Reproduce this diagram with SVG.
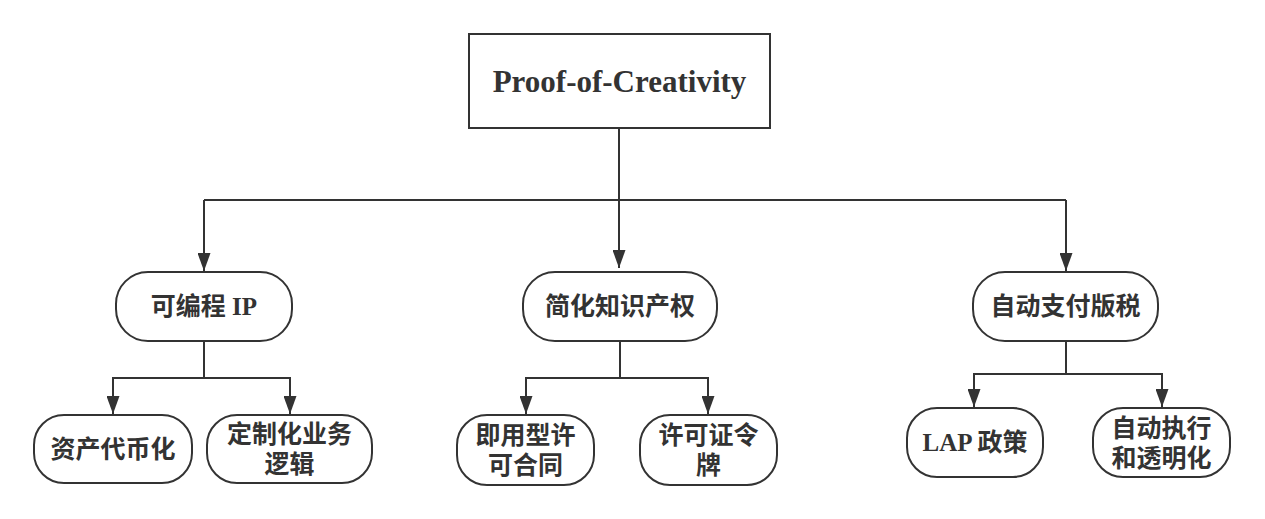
<svg xmlns="http://www.w3.org/2000/svg" width="1265" height="519" viewBox="0 0 1265 519">
<defs>
<marker id="arr" viewBox="0 0 18 13" refX="18" refY="6.5" markerWidth="18" markerHeight="13" markerUnits="userSpaceOnUse" orient="auto">
<path d="M0,0 L18,6.5 L0,13 z" fill="#333"/>
</marker>
<style>
.box{fill:#fff;stroke:#333;stroke-width:2}
.t{font-family:"Liberation Serif","Noto Sans CJK SC",serif;font-weight:700;font-size:25px;fill:#333;text-anchor:middle;dominant-baseline:central}
.title{font-family:"Liberation Serif",serif;font-weight:700;font-size:31px;fill:#333;text-anchor:middle;dominant-baseline:central}
.c{fill:none;stroke:#333;stroke-width:2}
</style>
</defs>
<rect width="1265" height="519" fill="#fff"/>
<g id="connectors">
<path class="c" d="M619,128 V268" marker-end="url(#arr)"/>
<path class="c" d="M204,200 H1066"/>
<path class="c" d="M204,200 V271" marker-end="url(#arr)"/>
<path class="c" d="M1066,200 V271" marker-end="url(#arr)"/>
<path class="c" d="M204,341 V378 H113 V414" marker-end="url(#arr)"/>
<path class="c" d="M204,378 H290 V414" marker-end="url(#arr)"/>
<path class="c" d="M620,341 V378 H526 V414" marker-end="url(#arr)"/>
<path class="c" d="M620,378 H708 V414" marker-end="url(#arr)"/>
<path class="c" d="M1066,341 V374 H974 V407" marker-end="url(#arr)"/>
<path class="c" d="M1066,374 H1162 V407" marker-end="url(#arr)"/>
</g>
<g id="root">
<rect class="box" x="469" y="34" width="301" height="94"/>
<text class="title" x="619.5" y="81">Proof-of-Creativity</text>
</g>
<g id="n1">
<rect class="box" x="116" y="272" width="176" height="69" rx="32"/>
<text class="t" x="204" y="306.5">可编程 IP</text>
</g>
<g id="n2">
<rect class="box" x="523" y="272" width="194" height="69" rx="32"/>
<text class="t" x="620" y="306.5">简化知识产权</text>
</g>
<g id="n3">
<rect class="box" x="973" y="272" width="185" height="69" rx="32"/>
<text class="t" x="1065.5" y="306.5">自动支付版税</text>
</g>
<g id="n1a">
<rect class="box" x="34" y="415" width="158" height="68" rx="30"/>
<text class="t" x="113" y="449">资产代币化</text>
</g>
<g id="n1b">
<rect class="box" x="207" y="415" width="165" height="68" rx="30"/>
<text class="t" x="289.5" y="434.5">定制化业务</text>
<text class="t" x="289.5" y="464.5">逻辑</text>
</g>
<g id="n2a">
<rect class="box" x="457" y="415" width="137" height="70" rx="30"/>
<text class="t" x="525.5" y="435">即用型许</text>
<text class="t" x="525.5" y="465">可合同</text>
</g>
<g id="n2b">
<rect class="box" x="640" y="415" width="137" height="70" rx="30"/>
<text class="t" x="708.5" y="435">许可证令</text>
<text class="t" x="708.5" y="465">牌</text>
</g>
<g id="n3a">
<rect class="box" x="907" y="408" width="136" height="69" rx="30"/>
<text class="t" x="975" y="442.5">LAP 政策</text>
</g>
<g id="n3b">
<rect class="box" x="1093" y="408" width="137" height="69" rx="30"/>
<text class="t" x="1161.5" y="428">自动执行</text>
<text class="t" x="1161.5" y="458">和透明化</text>
</g>
</svg>
